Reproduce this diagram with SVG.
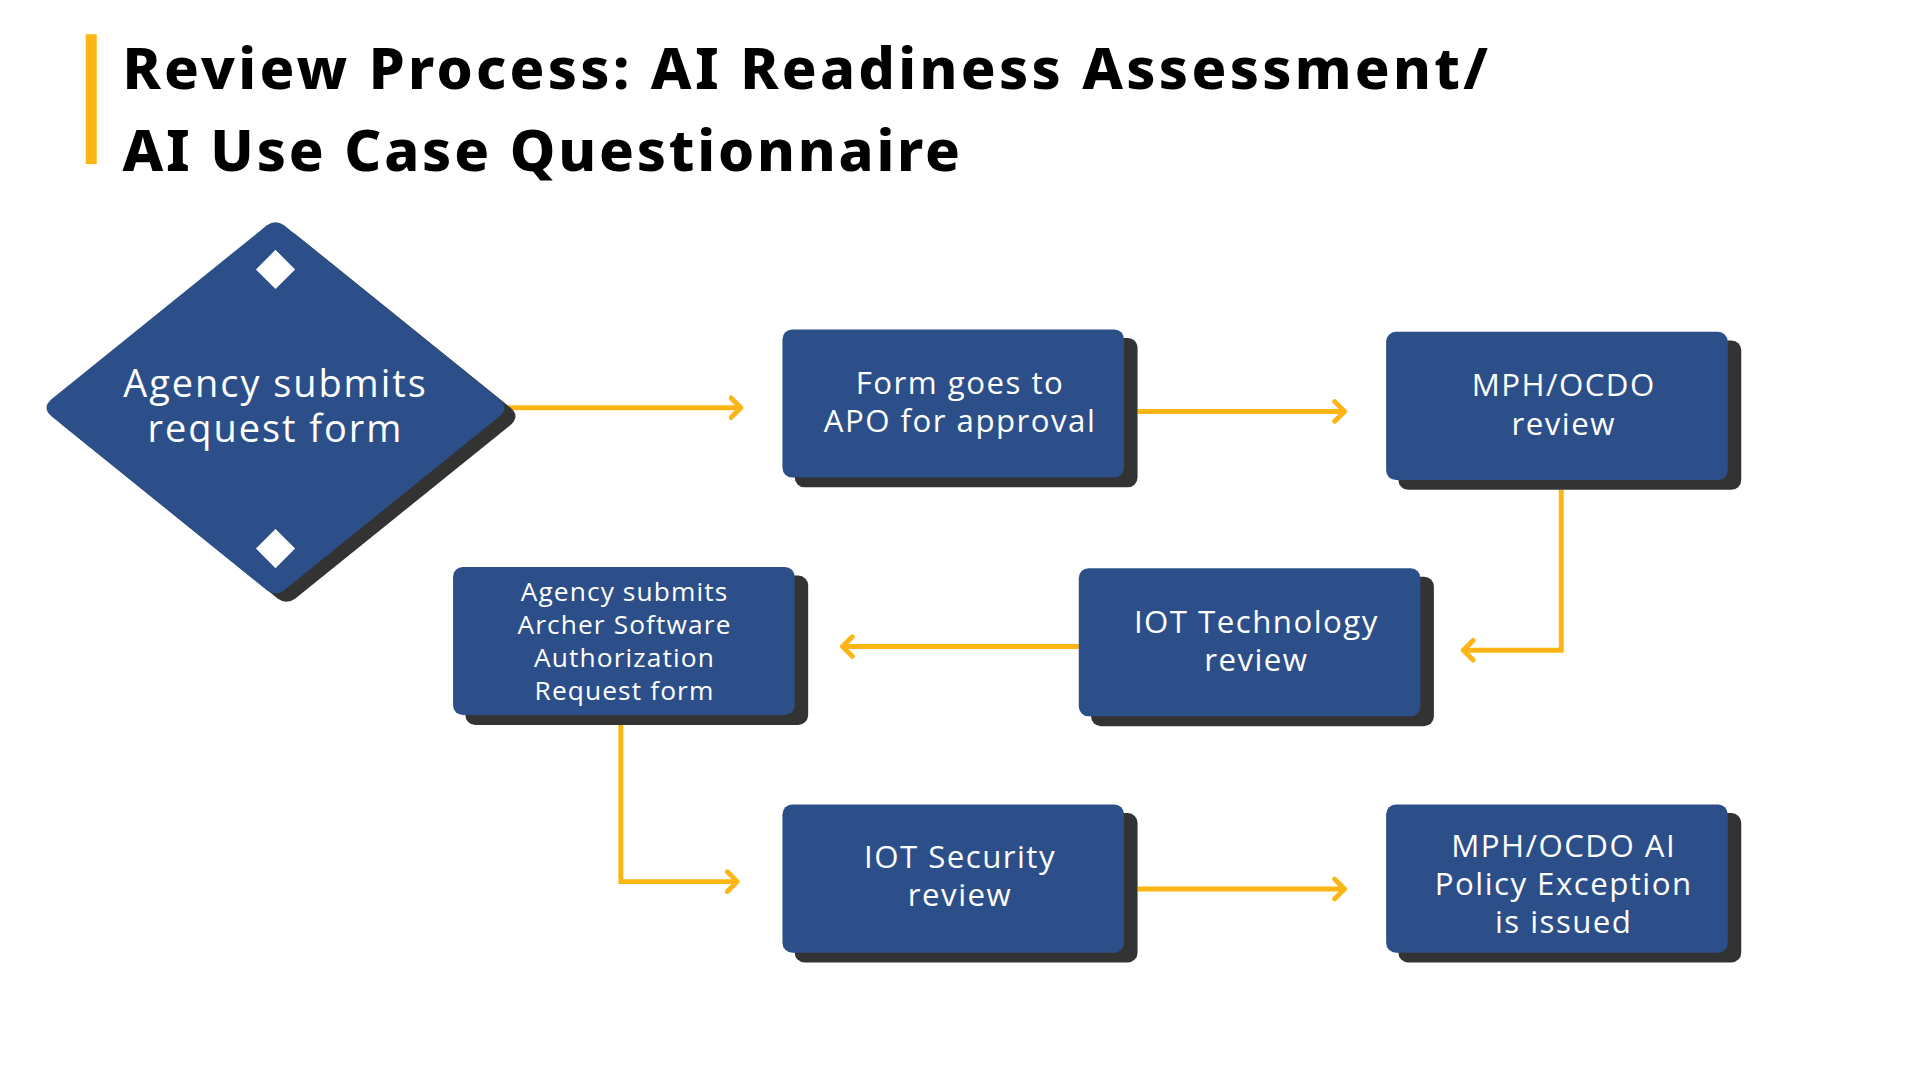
<svg xmlns="http://www.w3.org/2000/svg" width="1920" height="1080" viewBox="0 0 1920 1080">
<style>
.box{fill:#2c4f89}.sh{fill:#333333}
.t{font-family:"Open Sans","DejaVu Sans",sans-serif;fill:#fff;text-anchor:middle;font-size:25.5px;letter-spacing:1.2px}
.s{font-size:21.5px;letter-spacing:0.9px}
.c{fill:none;stroke:#fdb515;stroke-width:4;marker-end:url(#ar)}
.h{font-family:"Noto Sans","DejaVu Sans",sans-serif;font-weight:800;font-size:47px;fill:#000}
</style>
<defs>
<marker id="ar" markerUnits="userSpaceOnUse" markerWidth="20" markerHeight="24" refX="10" refY="10" orient="auto" viewBox="0 0 20 20">
<path d="M2,2 L10,10 L2,18" fill="none" stroke="#fdb515" stroke-width="4" stroke-linecap="round" stroke-linejoin="round"/>
</marker>
<path id="dm" d="M232,184 Q225,179 218,184 L42,326 Q34,333 42,340 L218,482 Q225,487 232,482 L408,340 Q416,333 408,326 Z"/>
</defs>
<rect width="1920" height="1080" fill="#fff"/>
<g transform="scale(1.2245)">
<g id="title">
<rect x="70" y="28" width="9" height="106" fill="#fdb515"/>
<text class="h" x="100" y="73" textLength="1115" lengthAdjust="spacing">Review Process: AI Readiness Assessment/</text>
<text class="h" x="100" y="140" textLength="684" lengthAdjust="spacing">AI Use Case Questionnaire</text>
</g>
<g id="connectors">
<path class="c" d="M415,333 H605"/>
<path class="c" d="M929,336 H1098"/>
<path class="c" d="M1275,400 V531 H1195"/>
<path class="c" d="M881,528 H688"/>
<path class="c" d="M507,592 V720 H602"/>
<path class="c" d="M929,726 H1098"/>
</g>
<g id="start">
<use href="#dm" class="sh" transform="translate(9,7)"/>
<use href="#dm" class="box"/>
<path d="M225,204 L241,220 L225,236 L209,220 Z M225,432 L241,448 L225,464 L209,448 Z" fill="#fff"/>
<text class="t" x="225" y="324" style="font-size:31px;letter-spacing:1.6px">Agency submits</text>
<text class="t" x="225" y="361" style="font-size:31px;letter-spacing:1.6px">request form</text>
</g>
<g id="n1"><rect class="sh" x="649" y="276" width="280" height="122" rx="8"/><rect class="box" x="639" y="269" width="279" height="121" rx="8"/>
<text class="t" x="784" y="322">Form goes to</text><text class="t" x="784" y="353">APO for approval</text></g>
<g id="n2"><rect class="sh" x="1142" y="278" width="280" height="122" rx="8"/><rect class="box" x="1132" y="271" width="279" height="121" rx="8"/>
<text class="t" x="1277" y="323">MPH/OCDO</text><text class="t" x="1277" y="355">review</text></g>
<g id="n3"><rect class="sh" x="891" y="471" width="280" height="122" rx="8"/><rect class="box" x="881" y="464" width="279" height="121" rx="8"/>
<text class="t" x="1026" y="517">IOT Technology</text><text class="t" x="1026" y="548">review</text></g>
<g id="n4"><rect class="sh" x="380" y="470" width="280" height="122" rx="8"/><rect class="box" x="370" y="463" width="279" height="121" rx="8"/>
<text class="t s" x="510" y="491">Agency submits</text><text class="t s" x="510" y="518">Archer Software</text><text class="t s" x="510" y="545">Authorization</text><text class="t s" x="510" y="572">Request form</text></g>
<g id="n5"><rect class="sh" x="649" y="664" width="280" height="122" rx="8"/><rect class="box" x="639" y="657" width="279" height="121" rx="8"/>
<text class="t" x="784" y="709">IOT Security</text><text class="t" x="784" y="740">review</text></g>
<g id="n6"><rect class="sh" x="1142" y="664" width="280" height="122" rx="8"/><rect class="box" x="1132" y="657" width="279" height="121" rx="8"/>
<text class="t" x="1277" y="700">MPH/OCDO AI</text><text class="t" x="1277" y="731">Policy Exception</text><text class="t" x="1277" y="762">is issued</text></g>
</g>
</svg>
